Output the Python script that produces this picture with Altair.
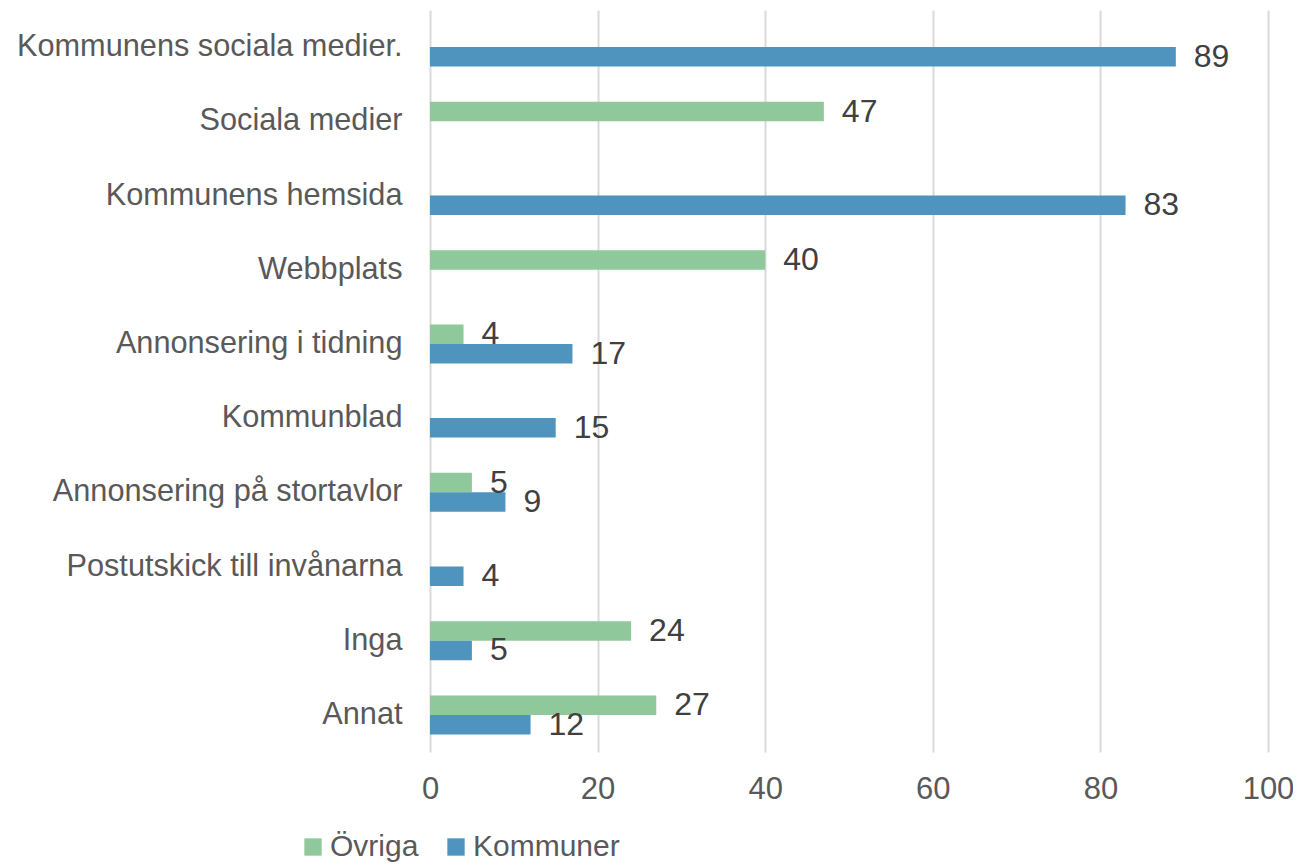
import altair as alt
import pandas as pd

categories = [
    "Kommunens sociala medier.",
    "Sociala medier",
    "Kommunens hemsida",
    "Webbplats",
    "Annonsering i tidning ",
    "Kommunblad",
    "Annonsering på stortavlor ",
    "Postutskick till invånarna",
    "Inga",
    "Annat",
]
ovriga = [None, 47, None, 40, 4, None, 5, None, 24, 27]
kommuner = [89, None, 83, None, 17, 15, 9, 4, 5, 12]
series = ["Övriga", "Kommuner"]
colors = ["#8FC89A", "#4E94BE"]
x_ticks = [0, 20, 40, 60, 80, 100]

rows = []
for c, o, k in zip(categories, ovriga, kommuner):
    if o is not None:
        rows.append({"kategori": c, "serie": "Övriga", "värde": o})
    if k is not None:
        rows.append({"kategori": c, "serie": "Kommuner", "värde": k})
df = pd.DataFrame(rows)

FONT = "Liberation Sans"

y_enc = alt.Y(
    "kategori:N",
    sort=categories,
    title=None,
    scale=alt.Scale(paddingInner=0.475, paddingOuter=0.2375),
    axis=alt.Axis(
        domain=False, ticks=False, grid=False, labelPadding=28,
        labelFontSize=30.7, labelColor="#595959", labelFont=FONT, labelLimit=600,
    ),
)
yoff = alt.YOffset("serie:N", sort=series, scale=alt.Scale(domain=series))
x_enc = alt.X(
    "värde:Q",
    title=None,
    scale=alt.Scale(domain=[0, 100], nice=False),
    axis=alt.Axis(
        values=x_ticks, domain=False, ticks=False, grid=True, labelFlush=False,
        gridColor="#D9D9D9", gridWidth=2, labelPadding=22,
        labelFontSize=31, labelColor="#595959", labelFont=FONT,
    ),
)

base = alt.Chart(df)

bars = base.mark_bar().encode(
    y=y_enc,
    yOffset=yoff,
    x=x_enc,
    color=alt.Color(
        "serie:N",
        scale=alt.Scale(domain=series, range=colors),
        legend=alt.Legend(
            title=None, orient="none", direction="horizontal",
            legendX=-132, legendY=822,
            symbolType="square", symbolSize=300, symbolStrokeWidth=0,
            labelFontSize=30, labelColor="#595959", labelFont=FONT,
            labelOffset=2, columnPadding=22,
        ),
    ),
)

labels = base.mark_text(
    align="left", baseline="middle", dx=18, fontSize=32, color="#404040", font=FONT
).encode(
    y=y_enc,
    yOffset=yoff,
    x=x_enc,
    text=alt.Text("värde:Q"),
)

chart = (
    alt.layer(bars, labels)
    .properties(
        width=838,
        height=742,
        autosize=alt.AutoSizeParams(type="none"),
        padding={"left": 422, "top": 2, "right": 25, "bottom": 112},
    )
    .configure_view(stroke=None)
)

chart.save("out.html", embed_options={"renderer": "svg", "actions": False})
